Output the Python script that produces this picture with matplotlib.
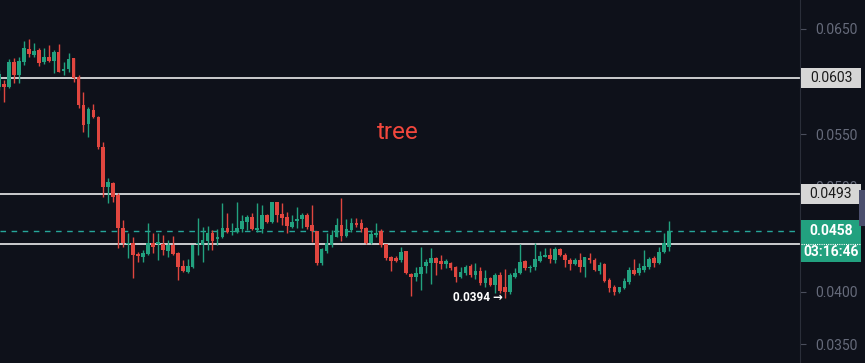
import numpy as np
import matplotlib
matplotlib.use("Agg")
import matplotlib.pyplot as plt
from matplotlib.patches import Rectangle

plt.rcParams['font.family'] = ['Roboto', 'DejaVu Sans']

# OHLC per candle
opens = [
    0.05947, 0.05976, 0.05947, 0.06185, 0.06062, 0.06185, 0.06309, 0.06252, 0.06300, 0.06185,
    0.06233, 0.06195, 0.06281, 0.06100, 0.06119, 0.06224, 0.06043, 0.05776, 0.05595, 0.05728,
    0.05662, 0.05376, 0.04995, 0.05033, 0.04919, 0.04605, 0.04452, 0.04462, 0.04357, 0.04328,
    0.04357, 0.04462, 0.04452, 0.04452, 0.04385, 0.04443, 0.04366, 0.04243, 0.04185, 0.04233,
    0.04452, 0.04443, 0.04481, 0.04557, 0.04500, 0.04519, 0.04605, 0.04566, 0.04566, 0.04595,
    0.04662, 0.04709, 0.04585, 0.04595, 0.04728, 0.04662, 0.04852, 0.04738, 0.04709, 0.04614,
    0.04671, 0.04690, 0.04728, 0.04633, 0.04576, 0.04271, 0.04385, 0.04443, 0.04519, 0.04633,
    0.04528, 0.04585, 0.04652, 0.04652, 0.04605, 0.04462, 0.04538, 0.04576, 0.04452, 0.04328,
    0.04319, 0.04300, 0.04385, 0.04166, 0.04138, 0.04166, 0.04243, 0.04271, 0.04319, 0.04290,
    0.04262, 0.04271, 0.04233, 0.04138, 0.04176, 0.04243, 0.04157, 0.04195, 0.04081, 0.04128,
    0.04062, 0.04157, 0.04043, 0.03995, 0.04138, 0.04176, 0.04290, 0.04224, 0.04233, 0.04290,
    0.04328, 0.04347, 0.04300, 0.04405, 0.04347, 0.04300, 0.04262, 0.04300, 0.04233, 0.04319,
    0.04300, 0.04195, 0.04262, 0.04109, 0.04043, 0.03995, 0.04033, 0.04090, 0.04205, 0.04176,
    0.04205, 0.04233, 0.04319, 0.04271, 0.04376, 0.04424,
]
highs = [
    0.06109, 0.06014, 0.06214, 0.06224, 0.06233, 0.06385, 0.06405, 0.06366, 0.06319, 0.06319,
    0.06347, 0.06300, 0.06357, 0.06185, 0.06271, 0.06224, 0.06062, 0.05900, 0.05757, 0.05785,
    0.05671, 0.05424, 0.05081, 0.05043, 0.04938, 0.04681, 0.04557, 0.04519, 0.04376, 0.04395,
    0.04652, 0.04557, 0.04557, 0.04538, 0.04490, 0.04528, 0.04376, 0.04300, 0.04309, 0.04443,
    0.04700, 0.04614, 0.04624, 0.04585, 0.04595, 0.04843, 0.04747, 0.04652, 0.04852, 0.04728,
    0.04728, 0.04747, 0.04843, 0.04824, 0.04738, 0.04852, 0.04852, 0.04843, 0.04757, 0.04728,
    0.04805, 0.04747, 0.04747, 0.04824, 0.04576, 0.04414, 0.04557, 0.04585, 0.04700, 0.04890,
    0.04690, 0.04700, 0.04700, 0.04690, 0.04614, 0.04585, 0.04652, 0.04595, 0.04452, 0.04338,
    0.04338, 0.04424, 0.04385, 0.04176, 0.04233, 0.04424, 0.04309, 0.04414, 0.04328, 0.04347,
    0.04309, 0.04281, 0.04243, 0.04233, 0.04252, 0.04262, 0.04271, 0.04233, 0.04205, 0.04138,
    0.04176, 0.04185, 0.04214, 0.04176, 0.04224, 0.04452, 0.04300, 0.04252, 0.04462, 0.04385,
    0.04414, 0.04414, 0.04424, 0.04414, 0.04366, 0.04319, 0.04319, 0.04366, 0.04328, 0.04366,
    0.04319, 0.04281, 0.04271, 0.04128, 0.04062, 0.04043, 0.04128, 0.04233, 0.04309, 0.04271,
    0.04395, 0.04328, 0.04338, 0.04424, 0.04557, 0.04671,
]
lows = [
    0.05919, 0.05805, 0.05938, 0.05985, 0.05985, 0.06157, 0.06233, 0.06233, 0.06147, 0.06166,
    0.06185, 0.06081, 0.06090, 0.06062, 0.06090, 0.05995, 0.05747, 0.05519, 0.05471, 0.05652,
    0.05357, 0.04900, 0.04843, 0.04852, 0.04414, 0.04424, 0.04319, 0.04128, 0.04281, 0.04281,
    0.04347, 0.04366, 0.04300, 0.04347, 0.04328, 0.04347, 0.04109, 0.04185, 0.04176, 0.04224,
    0.04347, 0.04281, 0.04395, 0.04395, 0.04443, 0.04509, 0.04557, 0.04538, 0.04557, 0.04566,
    0.04585, 0.04585, 0.04566, 0.04557, 0.04652, 0.04652, 0.04662, 0.04633, 0.04557, 0.04605,
    0.04605, 0.04605, 0.04595, 0.04471, 0.04252, 0.04252, 0.04366, 0.04424, 0.04519, 0.04481,
    0.04519, 0.04566, 0.04614, 0.04566, 0.04452, 0.04452, 0.04519, 0.04424, 0.04300, 0.04195,
    0.04281, 0.04281, 0.04166, 0.03957, 0.04100, 0.04014, 0.04176, 0.04071, 0.04157, 0.04214,
    0.04224, 0.04205, 0.04090, 0.04128, 0.04157, 0.04138, 0.04119, 0.04062, 0.04043, 0.04052,
    0.03985, 0.03985, 0.03940, 0.03976, 0.04128, 0.04166, 0.04205, 0.04185, 0.04205, 0.04281,
    0.04328, 0.04271, 0.04271, 0.04338, 0.04233, 0.04205, 0.04252, 0.04185, 0.04138, 0.04271,
    0.04195, 0.04166, 0.04090, 0.03995, 0.03966, 0.03985, 0.04024, 0.04071, 0.04157, 0.04157,
    0.04185, 0.04214, 0.04233, 0.04262, 0.04366, 0.04385,
]
closes = [
    0.06071, 0.05947, 0.06185, 0.06062, 0.06195, 0.06319, 0.06262, 0.06290, 0.06176, 0.06233,
    0.06195, 0.06281, 0.06090, 0.06119, 0.06214, 0.06033, 0.05776, 0.05585, 0.05738, 0.05662,
    0.05376, 0.04995, 0.05043, 0.04900, 0.04605, 0.04462, 0.04462, 0.04347, 0.04338, 0.04366,
    0.04462, 0.04424, 0.04471, 0.04395, 0.04443, 0.04357, 0.04233, 0.04195, 0.04243, 0.04443,
    0.04462, 0.04490, 0.04557, 0.04481, 0.04519, 0.04605, 0.04566, 0.04576, 0.04605, 0.04671,
    0.04709, 0.04595, 0.04605, 0.04728, 0.04662, 0.04852, 0.04728, 0.04700, 0.04624, 0.04662,
    0.04690, 0.04728, 0.04614, 0.04576, 0.04271, 0.04405, 0.04462, 0.04538, 0.04633, 0.04528,
    0.04595, 0.04652, 0.04633, 0.04595, 0.04462, 0.04547, 0.04557, 0.04443, 0.04319, 0.04290,
    0.04290, 0.04376, 0.04176, 0.04138, 0.04176, 0.04233, 0.04281, 0.04319, 0.04271, 0.04262,
    0.04290, 0.04224, 0.04138, 0.04185, 0.04233, 0.04157, 0.04195, 0.04081, 0.04128, 0.04062,
    0.04157, 0.04005, 0.03995, 0.04157, 0.04176, 0.04281, 0.04224, 0.04233, 0.04309, 0.04338,
    0.04347, 0.04309, 0.04405, 0.04347, 0.04300, 0.04262, 0.04300, 0.04233, 0.04328, 0.04300,
    0.04205, 0.04252, 0.04100, 0.04033, 0.03995, 0.04043, 0.04100, 0.04205, 0.04166, 0.04224,
    0.04243, 0.04309, 0.04271, 0.04376, 0.04462, 0.04580,
]

levels = [0.0603, 0.0493, 0.0445]          # solid white lines
labelled_levels = [0.0603, 0.0493]
last_price = 0.0458
countdown = "03:16:46"
low_label = "0.0394 →"
yticks = [0.035, 0.040, 0.045, 0.050, 0.055, 0.060, 0.065]
hidden_ticks = [0.045, 0.060]              # covered by the price boxes
title_text = "tree"

BG = '#0e111a'
UP = '#22a17f'
DOWN = '#e0463f'

o = np.array(opens)
h = np.array(highs)
l = np.array(lows)
c = np.array(closes)
x = np.arange(len(o))
up = c >= o
colors = np.where(up, UP, DOWN)

fig = plt.figure(figsize=(8.65, 3.63), dpi=100, facecolor=BG)
ax = fig.add_axes([0, 0, 800 / 865, 1])
ax.set_facecolor(BG)

ax.vlines(x, l, h, colors=colors, linewidth=1, zorder=3)
body = np.maximum(np.abs(c - o), 0.00008)
ax.bar(x, body, bottom=np.minimum(o, c), width=0.74, color=colors, linewidth=0, zorder=4)

for lv in levels:
    ax.axhline(lv, color='white', linewidth=1.1, zorder=2)
ax.axhline(last_price, color='#26a69a', linewidth=1, linestyle=(0, (4, 4)), zorder=2)

ax.annotate(low_label, xy=(np.argmin(l), l.min()), xytext=(-1.5, 0), textcoords='offset points',
            ha='right', va='center', color='white', fontsize=8.5, fontweight='bold', zorder=5)

ax.text(0.4975, 0.634, title_text, transform=ax.transAxes, color='#f2473d', fontsize=17.5,
        ha='center', va='center')

ax.set_xlim(0.18, 161.4)
ax.set_ylim(0.0332, 0.06776)
ax.set_yticks(yticks)
ax.set_yticklabels(["" if t in hidden_ticks else f"{t:.4f}" for t in yticks])
ax.yaxis.tick_right()
ax.tick_params(axis='y', length=4, width=0.8, color='#4a4e5c', pad=7, labelsize=10,
               labelcolor='#666b7b')
ax.tick_params(axis='x', bottom=False, labelbottom=False)
for side in ['top', 'left', 'bottom']:
    ax.spines[side].set_visible(False)
ax.spines['right'].set_color('#2a2e39')

# price scale overlay
ax2 = fig.add_axes([800 / 865, 0, 65 / 865, 1], sharey=ax)
ax2.set_zorder(3)
ax2.patch.set_visible(False)
ax2.set_xlim(0, 65)
ax2.axis('off')
box_h = 0.0019
for lv in labelled_levels:
    ax2.add_patch(Rectangle((1, lv - box_h / 2), 60, box_h, facecolor='#d6d6d6', edgecolor='none'))
    ax2.text(31, lv, f"{lv:.4f}", ha='center', va='center', color='#1a1a1a', fontsize=10)
ax2.add_patch(Rectangle((1, last_price - 0.00295), 60, 0.0040, facecolor=UP, edgecolor='none'))
ax2.plot([1, 61], [levels[2], levels[2]], color='white', linewidth=0.8, linestyle=(0, (1, 1)))
ax2.text(31, last_price, f"{last_price:.4f}", ha='center', va='center', color='white',
         fontsize=10, fontweight='bold')
ax2.text(31, last_price - 0.0020, countdown, ha='center', va='center', color='white',
         fontsize=10, fontweight='bold')
ax2.add_patch(Rectangle((58.5, 0.04624), 8, 0.00343, facecolor='#4b4f6e', edgecolor='none'))

fig.savefig('out.png', dpi=100, facecolor=BG)
